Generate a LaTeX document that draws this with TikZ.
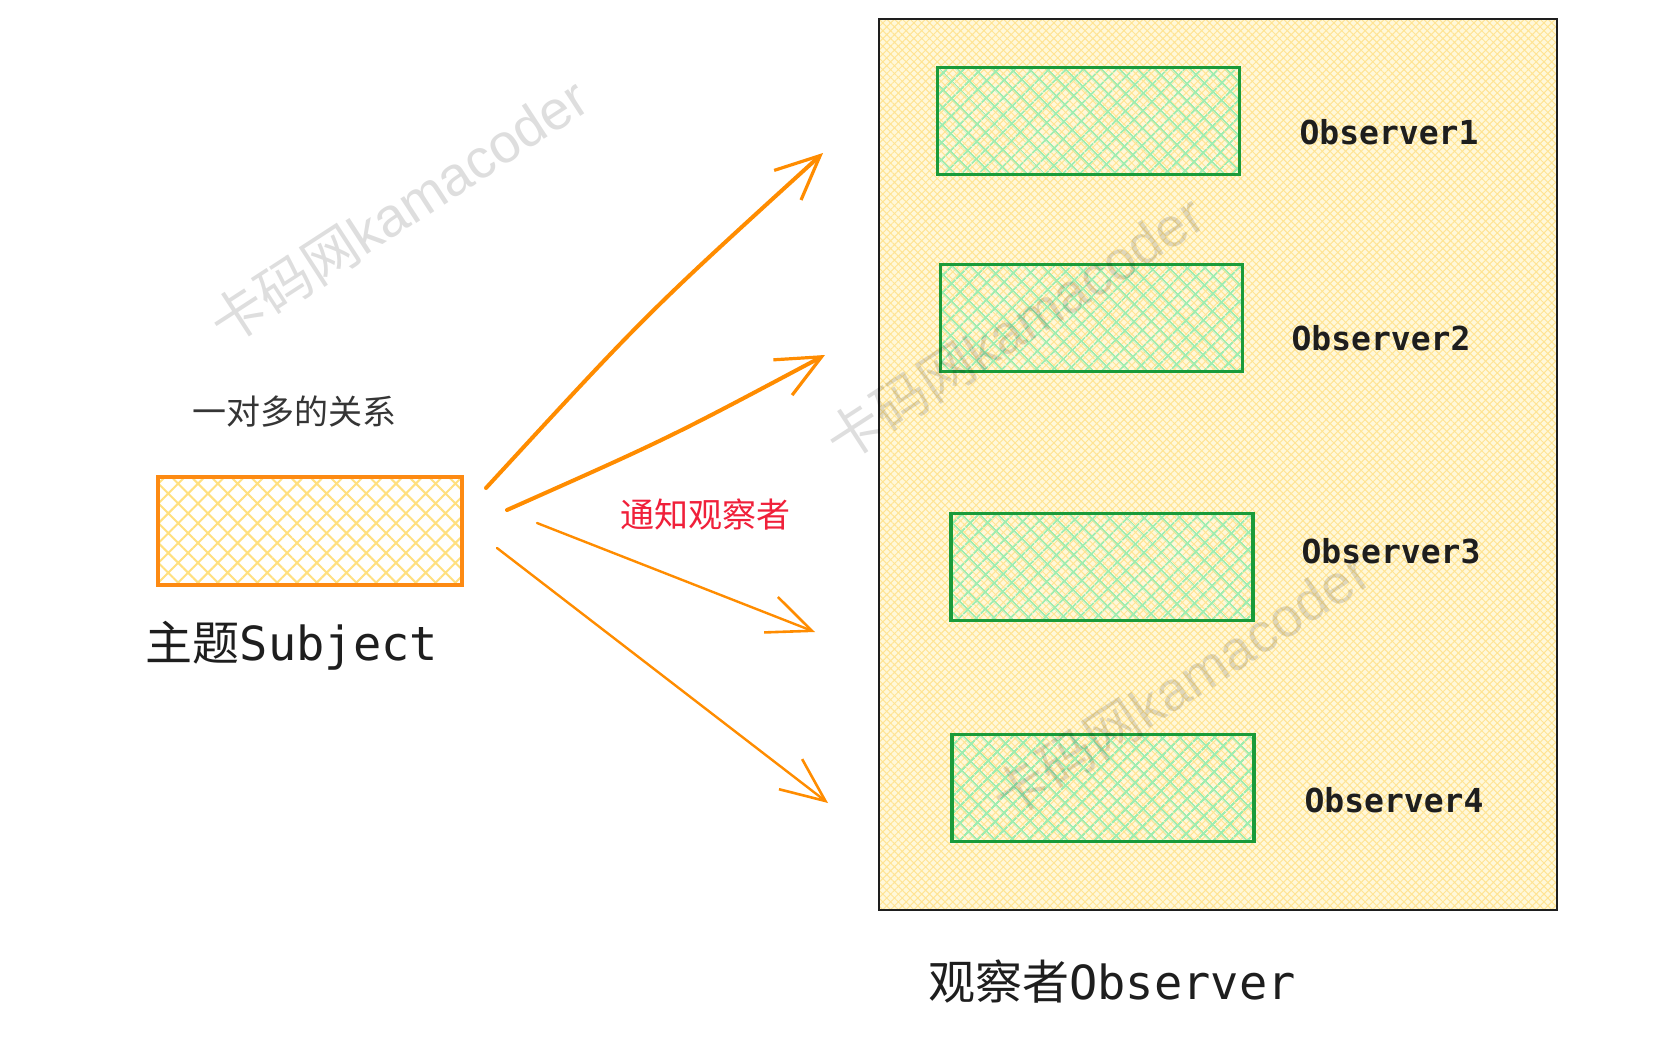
\documentclass[tikz,border=0pt]{standalone}
\usepackage{fontspec}
\newfontfamily\cjk{Noto Sans CJK SC}
\newfontfamily\mono{DejaVu Sans Mono}
\newfontfamily\wmlat{Liberation Sans}
\usetikzlibrary{arrows.meta,patterns.meta}
\definecolor{inkdark}{HTML}{1E1E1E}
\definecolor{arroworange}{HTML}{FF8C00}
\definecolor{subjborder}{HTML}{FD8A12}
\definecolor{subjhatch}{HTML}{FFE080}
\definecolor{bigfill}{HTML}{FFF8DA}
\definecolor{bighatch}{HTML}{FFE494}
\definecolor{obsborder}{HTML}{1A9B3A}
\definecolor{obshatch}{HTML}{9EEDB0}
\definecolor{notered}{HTML}{F0203A}
\tikzset{
  bigbox/.style={draw=inkdark, line width=2pt, inner sep=0pt, outer sep=0pt,
    preaction={fill=bigfill},
    pattern={Hatch[angle=45,distance=5.5pt,line width=1pt]}, pattern color=bighatch},
  obsbox/.style={draw=obsborder, line width=3.8pt, inner sep=0pt, outer sep=0pt,
    minimum width=302pt, minimum height=107pt,
    pattern={Hatch[angle=45,distance=13pt,line width=2pt]}, pattern color=obshatch},
  subjbox/.style={draw=subjborder, line width=3.5pt, inner sep=0pt, outer sep=0pt,
    preaction={fill=white},
    pattern={Hatch[angle=45,distance=14pt,line width=2pt]}, pattern color=subjhatch},
  obslabel/.style={font=\mono\bfseries\fontsize{33}{36}\selectfont, text=inkdark, inner sep=0pt},
  cjklabel/.style={font=\cjk\fontsize{34}{38}\selectfont, inner sep=0pt},
  biglabel/.style={font=\fontsize{47}{52}\selectfont, text=inkdark, inner sep=0pt},
  thickarrow/.style={draw=arroworange, line width=4pt, line cap=round,
    -{Straight Barb[length=44pt,width=40pt,line width=3.2pt]}},
  thinarrow/.style={draw=arroworange, line width=2.4pt, line cap=round,
    -{Straight Barb[length=44pt,width=38pt,line width=2.6pt]}},
  watermark/.style={text=black, text opacity=0.13, inner sep=0pt,
    font=\fontsize{55}{60}\selectfont}
}
\begin{document}
\begin{tikzpicture}[x=1pt,y=-1pt]
\useasboundingbox (0,0) rectangle (1656,1038);
% big observer container
\node[bigbox, minimum width=678pt, minimum height=891pt] (obsarea) at (1218,464.5) {};
% observer boxes
\node[obsbox] (o1) at (1088.5,121) {};
\node[obsbox] (o2) at (1091.5,318) {};
\node[obsbox] (o3) at (1102,567) {};
\node[obsbox] (o4) at (1103,788) {};
\node[obslabel] (l1) at (1389,132) {Observer1};
\node[obslabel] (l2) at (1381,338) {Observer2};
\node[obslabel] (l3) at (1391,551) {Observer3};
\node[obslabel] (l4) at (1394,800) {Observer4};
% subject
\node[subjbox, minimum width=304pt, minimum height=108pt] (subj) at (310,531) {};
\node[cjklabel, text=inkdark!90!white] (rel) at (294,412) {一对多的关系};
\node[biglabel] (subjlabel) at (292,646) {{\cjk 主题}{\mono Subject}};
\node[biglabel] (obslabel) at (1112,982) {{\cjk 观察者}{\mono Observer}};
\node[cjklabel, text=notered] (notify) at (705,515) {通知观察者};
% arrows
\coordinate (s1) at (486,488);
\coordinate (s2) at (507,510);
\coordinate (s3) at (537,523);
\coordinate (s4) at (497,548);
\coordinate (e1) at (823,153);
\coordinate (e2) at (825,355);
\coordinate (e3) at (815,632);
\coordinate (e4) at (828,803);
\draw[thickarrow] (s1) .. controls (647,313) .. (e1);
\draw[thickarrow] (s2) .. controls (669,438) .. (e2);
\draw[thinarrow] (s3) -- (e3);
\draw[thinarrow] (s4) -- (e4);
% watermarks
\node[watermark, rotate=33] (wm1) at (398,210) {{\cjk 卡码网}{\wmlat kamacoder}};
\node[watermark, rotate=33] (wm2) at (1014,327) {{\cjk 卡码网}{\wmlat kamacoder}};
\node[watermark, rotate=33] (wm3) at (1180,684) {{\cjk 卡码网}{\wmlat kamacoder}};
\end{tikzpicture}
\end{document}
